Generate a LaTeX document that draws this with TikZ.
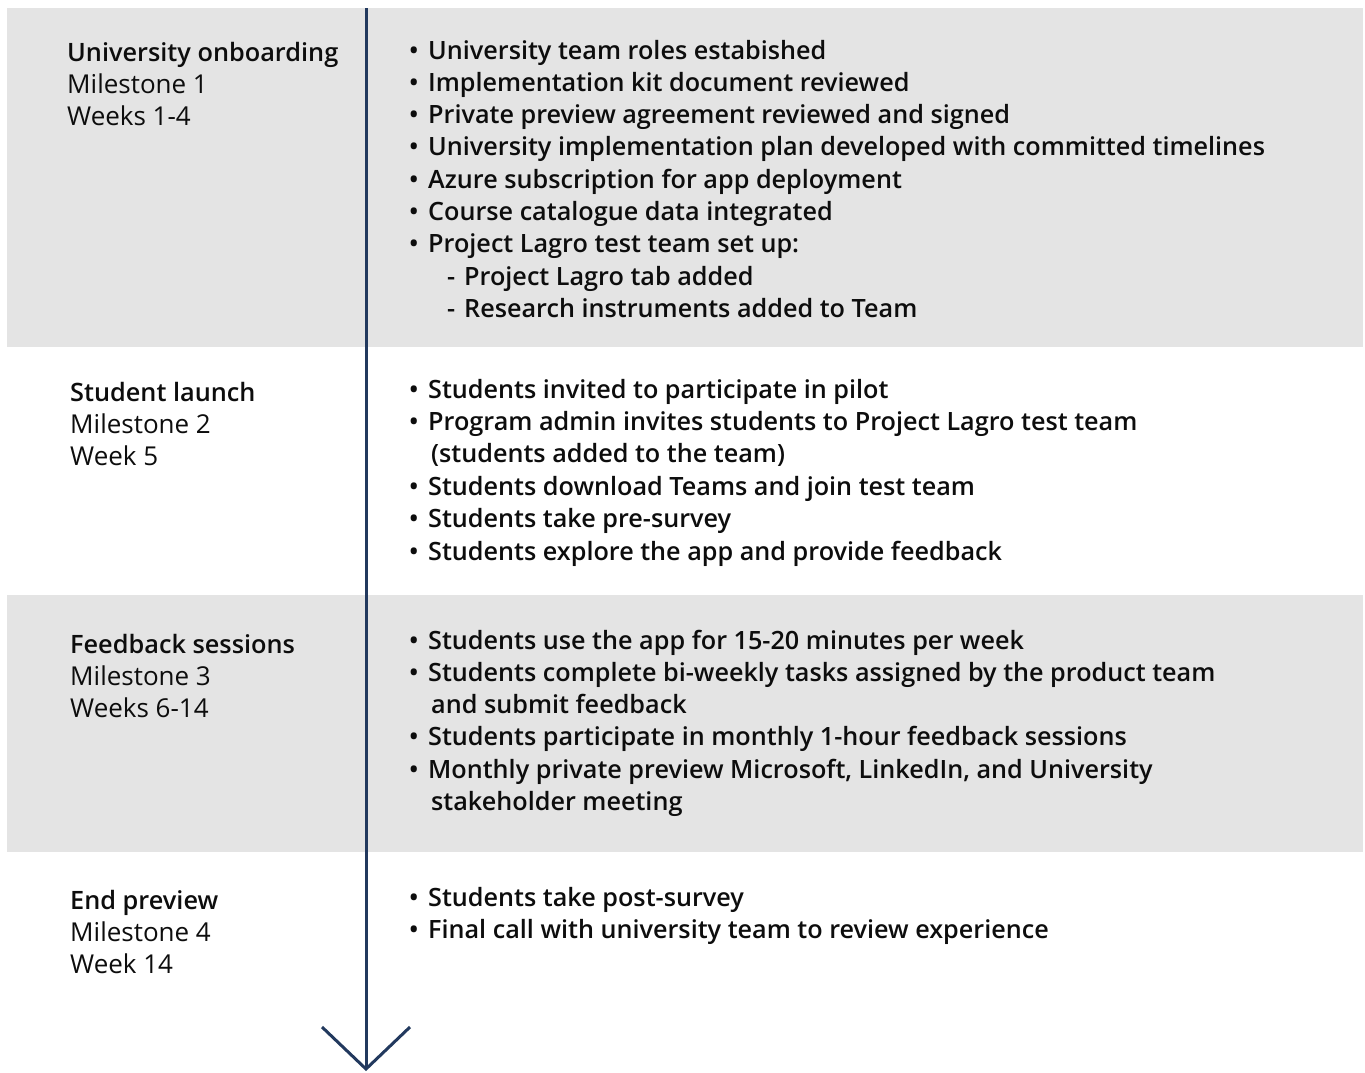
\documentclass[tikz,border=0pt]{standalone}
\usepackage{fontspec}
% prefer a semibold face for the emphasised text when one is installed
\IfFontExistsTF{Open Sans Semibold}
  {\setmainfont{Open Sans}[BoldFont={Open Sans Semibold}]}
  {\IfFontExistsTF{Open Sans SemiBold}
     {\setmainfont{Open Sans}[BoldFont={Open Sans SemiBold}]}
     {\setmainfont{Open Sans}}}
\definecolor{bandgray}{HTML}{E4E4E4}
\definecolor{axisblue}{HTML}{22395E}
\definecolor{ink}{HTML}{0D0D0D}
% line kinds inside the right-hand column
\newcommand\lnb[1]{\makebox[19pt][l]{•}#1}
\newcommand\lnc[1]{\hspace{22pt}#1}
\newcommand\lns[1]{\hspace{38pt}\makebox[17pt][l]{-}#1}
\begin{document}
\begin{tikzpicture}[x=1pt,y=-1pt,
  txt/.style={anchor=base west,inner sep=0pt,text=ink,font=\fontsize{26}{30}\selectfont},
  head/.style={txt,font=\fontsize{25.3}{30}\selectfont\bfseries},
  item/.style={txt,font=\fontsize{25.2}{30}\selectfont\bfseries},
  timeline/.style={draw=axisblue,line width=3pt}]
\useasboundingbox (0,0) rectangle (1365,1072);
% shaded milestone bands
\fill[bandgray] (7,8) rectangle (1363,347);
\fill[bandgray] (7,595) rectangle (1363,852);

% milestone labels
\node[head] (m1h) at (67,61) {University onboarding};
\node[txt]  (m1a) at (67,93.3) {Milestone 1};
\node[txt]  (m1b) at (67,125.6) {Weeks 1-4};

\node[head] (m2h) at (70,401) {Student launch};
\node[txt]  (m2a) at (70,433.3) {Milestone 2};
\node[txt]  (m2b) at (70,465.6) {Week 5};

\node[head] (m3h) at (70,653) {Feedback sessions};
\node[txt]  (m3a) at (70,685.3) {Milestone 3};
\node[txt]  (m3b) at (70,717.6) {Weeks 6-14};

\node[head] (m4h) at (70,909) {End preview};
\node[txt]  (m4a) at (70,941.3) {Milestone 4};
\node[txt]  (m4b) at (70,973.6) {Week 14};

% activities per milestone
\foreach \k/\t [count=\i] in {
  b/{University team roles estabished},
  b/{Implementation kit document reviewed},
  b/{Private preview agreement reviewed and signed},
  b/{University implementation plan developed with committed timelines},
  b/{Azure subscription for app deployment},
  b/{Course catalogue data integrated},
  b/{Project Lagro test team set up:},
  s/{Project Lagro tab added},
  s/{Research instruments added to Team}}
  \node[item] (a\i) at (409,{59+(\i-1)*32.3}) {\csname ln\k\endcsname{\t}};

\foreach \k/\t [count=\i] in {
  b/{Students invited to participate in pilot},
  b/{Program admin invites students to Project Lagro test team},
  c/{(students added to the team)},
  b/{Students download Teams and join test team},
  b/{Students take pre-survey},
  b/{Students explore the app and provide feedback}}
  \node[item] (b\i) at (409,{398+(\i-1)*32.4}) {\csname ln\k\endcsname{\t}};

\foreach \k/\t [count=\i] in {
  b/{Students use the app for 15-20 minutes per week},
  b/{Students complete bi-weekly tasks assigned by the product team},
  c/{and submit feedback},
  b/{Students participate in monthly 1-hour feedback sessions},
  b/{Monthly private preview Microsoft, LinkedIn, and University},
  c/{stakeholder meeting}}
  \node[item] (c\i) at (409,{649+(\i-1)*32.3}) {\csname ln\k\endcsname{\t}};

\foreach \k/\t [count=\i] in {
  b/{Students take post-survey},
  b/{Final call with university team to review experience}}
  \node[item] (d\i) at (409,{906+(\i-1)*32.3}) {\csname ln\k\endcsname{\t}};

% time axis with open chevron head
\coordinate (top) at (366,8);
\coordinate (tip) at (366,1069);
\coordinate (armL) at (322,1027);
\coordinate (armR) at (410,1027);
\draw[timeline] (top) -- (tip);
\draw[timeline,line join=miter] (armL) -- (tip) -- (armR);
\end{tikzpicture}
\end{document}
